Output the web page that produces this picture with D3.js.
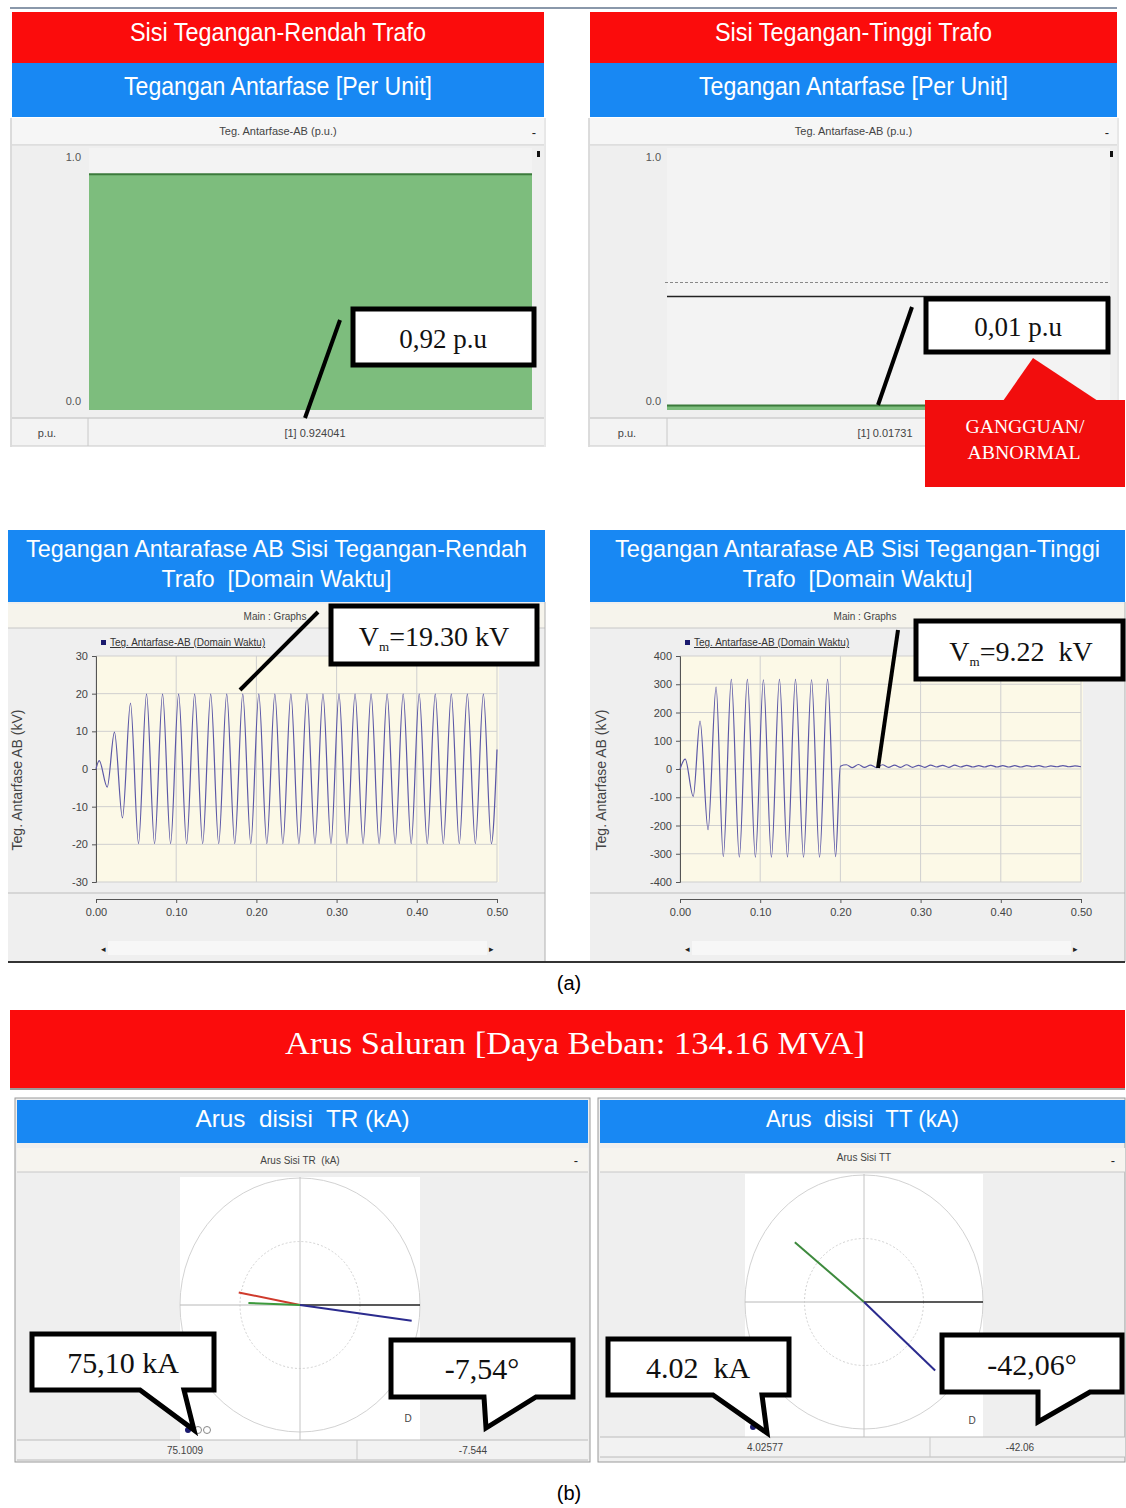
<!DOCTYPE html>
<html>
<head>
<meta charset="utf-8">
<title>Tegangan dan Arus Trafo</title>
<script src="https://cdn.jsdelivr.net/npm/d3@7/dist/d3.min.js"></script>
<style>
  body { margin: 0; background: #fff; }
  text { font-family: "Liberation Sans", Arial, sans-serif; }
  .serif { font-family: "Liberation Serif", "Times New Roman", serif; }
  .pre { white-space: pre; }
</style>
</head>
<body>
<div id="chart-area"></div>
<script>
// ---- values ----
var sideTitles = ["Sisi Tegangan-Rendah Trafo", "Sisi Tegangan-Tinggi Trafo"];
var puValues   = [0.924041, 0.01731];
var puReadout  = ["[1] 0.924041", "[1] 0.01731"];
var puTicks    = [0.0, 1.0];
var puCallouts = ["0,92 p.u", "0,01 p.u"];
var htLimitDashed = 0.5;
var htLimitSolid  = 0.445;

var waveTitles = [["Tegangan Antarafase AB Sisi Tegangan-Rendah", "Trafo  [Domain Waktu]"],
                  ["Tegangan Antarafase AB Sisi Tegangan-Tinggi", "Trafo  [Domain Waktu]"]];
var timeTicks = [0, 0.1, 0.2, 0.3, 0.4, 0.5];
var trTicks = [-30, -20, -10, 0, 10, 20, 30];
var ttTicks = [-400, -300, -200, -100, 0, 100, 200, 300, 400];
var vmLabels = ["=19.30 kV", "=9.22  kV"];

// half-cycle extremes of the LT-side waveform (s, kV)
var trTimes = [0, 0.004, 0.014, 0.023, 0.033, 0.043,
  0.053, 0.063, 0.073, 0.083, 0.093, 0.103, 0.113, 0.123, 0.133, 0.143,
  0.153, 0.163, 0.173, 0.183, 0.193, 0.203, 0.213, 0.223, 0.233, 0.243,
  0.253, 0.263, 0.273, 0.283, 0.293, 0.303, 0.313, 0.323, 0.333, 0.343,
  0.353, 0.363, 0.373, 0.383, 0.393, 0.403, 0.413, 0.423, 0.433, 0.443,
  0.453, 0.463, 0.473, 0.483, 0.493, 0.5];
var trValues = [0, 2.2, -4.8, 9.8, -13.0, 17.5,
  -19.8, 19.9, -19.8, 19.9, -19.8, 19.9, -19.8, 19.9, -19.8, 19.9,
  -19.8, 19.9, -19.8, 19.9, -19.8, 19.9, -19.8, 19.9, -19.8, 19.9,
  -19.8, 19.9, -19.8, 19.9, -19.8, 19.9, -19.8, 19.9, -19.8, 19.9,
  -19.8, 19.9, -19.8, 19.9, -19.8, 19.9, -19.8, 19.9, -19.8, 19.9,
  -19.8, 19.9, -19.8, 19.9, -19.8, 5.2];

// HT-side waveform: extremes before the fault, ripple after 0.2 s (s, kV)
var ttTimes = [0, 0.0065, 0.0165, 0.025, 0.035, 0.045,
  0.054, 0.064, 0.074, 0.084, 0.094, 0.104, 0.114, 0.124, 0.134, 0.144,
  0.154, 0.164, 0.174, 0.184, 0.194, 0.2,
  0.2075, 0.215, 0.2225, 0.23, 0.2375, 0.245, 0.2525, 0.26, 0.2675, 0.275,
  0.2825, 0.29, 0.2975, 0.305, 0.3125, 0.32, 0.3275, 0.335, 0.3425, 0.35,
  0.3575, 0.365, 0.3725, 0.38, 0.3875, 0.395, 0.4025, 0.41, 0.4175, 0.425,
  0.4325, 0.44, 0.4475, 0.455, 0.4625, 0.47, 0.4775, 0.485, 0.4925, 0.5];
var ttValues = [0, 35, -97, 170, -215, 290,
  -310, 317, -312, 317, -312, 316, -312, 317, -311, 317,
  -312, 316, -312, 317, -310, 10,
  15, 5, 16, 6, 14, 5, 15, 6, 14, 6,
  15, 6, 13, 6, 14, 7, 13, 6, 14, 7,
  13, 7, 12, 7, 13, 7, 12, 7, 12, 7,
  12, 8, 12, 7, 11, 8, 12, 8, 11, 8];

var loadTitle = "Arus Saluran [Daya Beban: 134.16 MVA]";
var phasorTitles = ["Arus  disisi  TR (kA)", "Arus  disisi  TT (kA)"];
var phasorSubTitles = ["Arus Sisi TR  (kA)", "Arus Sisi TT"];
var trPhasorMag = [41.6, 34.4, 75.1009];
var trPhasorAng = [169, 178, -7.544];
var ttPhasorMag = [3.74, 4.02577];
var ttPhasorAng = [141, -42.06];
var phasorMax = [80, 5];
var phasorReadMag = ["75.1009", "4.02577"];
var phasorReadAng = ["-7.544", "-42.06"];
var phasorCallMag = ["75,10 kA", "4.02  kA"];
var phasorCallAng = ["-7,54°", "-42,06°"];

// ---- drawing ----
var W = 1126, H = 1508;
var RED = "#fb0c0c", BLUE = "#1888f3", PANEL = "#efefef";

var svg = d3.select("#chart-area")
    .append("svg")
        .attr("width", W)
        .attr("height", H);

svg.append("rect").attr("width", W).attr("height", H).attr("fill", "#fff");

function hline(g, x0, x1, y, color, w) {
    g.append("line").attr("x1", x0).attr("x2", x1).attr("y1", y).attr("y2", y)
        .attr("stroke", color).attr("stroke-width", w || 1);
}
function vline(g, x, y0, y1, color, w) {
    g.append("line").attr("x1", x).attr("x2", x).attr("y1", y0).attr("y2", y1)
        .attr("stroke", color).attr("stroke-width", w || 1);
}
function label(g, x, y, txt, size, opts) {
    opts = opts || {};
    var t = g.append("text")
        .attr("x", x).attr("y", y)
        .attr("font-size", size)
        .attr("text-anchor", opts.anchor || "middle")
        .attr("fill", opts.fill || "#333")
        .attr("class", (opts.cls || "") + " pre")
        .text(txt);
    if (opts.len) t.attr("textLength", opts.len).attr("lengthAdjust", "spacingAndGlyphs");
    return t;
}
function box(g, x0, y0, x1, y1) {
    g.append("rect").attr("x", x0).attr("y", y0)
        .attr("width", x1 - x0).attr("height", y1 - y0)
        .attr("fill", "#fff").attr("stroke", "#000").attr("stroke-width", 5);
}

hline(svg, 10, 1117, 8, "#8a98aa", 2);

// ================= (a) top: per-unit RMS =================
var topLayout = [
    { x0: 12, x1: 544, plotX0: 89, plotX1: 532, tickX: 81, unitX: 47, divX: 88, readX: 315, l1: 296, l2: 308 },
    { x0: 590, x1: 1117, plotX0: 667, plotX1: 1110, tickX: 661, unitX: 627, divX: 667, readX: 885, l1: 277, l2: 309 }
];

topLayout.forEach(function(L, i) {
    var g = svg.append("g");
    var w = L.x1 - L.x0, cx = (L.x0 + L.x1) / 2;

    g.append("rect").attr("x", L.x0).attr("y", 12).attr("width", w).attr("height", 51).attr("fill", RED);
    label(g, cx, 41, sideTitles[i], 25, { fill: "#fff", len: L.l1 });
    g.append("rect").attr("x", L.x0).attr("y", 63).attr("width", w).attr("height", 54).attr("fill", BLUE);
    label(g, cx, 95, "Tegangan Antarfase [Per Unit]", 25, { fill: "#fff", len: L.l2 });

    g.append("rect").attr("x", L.x0).attr("y", 118).attr("width", w).attr("height", 27).attr("fill", "#f6f6f6");
    hline(g, L.x0, L.x1, 145, "#c6c6c6");
    label(g, cx, 135, "Teg. Antarfase-AB (p.u.)", 11, { fill: "#444" });
    label(g, L.x1 - 10, 137, "-", 13, { fill: "#222" });

    g.append("rect").attr("x", L.x0).attr("y", 146).attr("width", w).attr("height", 272).attr("fill", PANEL);
    g.append("rect").attr("x", L.plotX0).attr("y", 148).attr("width", L.plotX1 - L.plotX0).attr("height", 262).attr("fill", "#f3f3f3");

    var y = d3.scaleLinear().domain([0, 1]).range([410, 155]);

    g.selectAll(".pu-tick")
        .data(puTicks)
        .enter()
        .append("text")
            .attr("x", L.tickX)
            .attr("y", function(d) { return d === 1 ? y(d) + 6 : y(d) - 5; })
            .attr("text-anchor", "end")
            .attr("font-size", 11)
            .attr("fill", "#555")
            .text(function(d) { return d.toFixed(1); });

    if (i === 1) {
        g.append("line").attr("x1", 665).attr("x2", 1110)
            .attr("y1", y(htLimitDashed)).attr("y2", y(htLimitDashed))
            .attr("stroke", "#888").attr("stroke-dasharray", "3,2");
        hline(g, 667, 1110, y(htLimitSolid), "#222", 1.5);
    }

    g.append("rect")
        .attr("x", L.plotX0)
        .attr("y", y(puValues[i]))
        .attr("width", L.plotX1 - L.plotX0)
        .attr("height", y(0) - y(puValues[i]))
        .attr("fill", "#7dbd7d");
    hline(g, L.plotX0, L.plotX1, y(puValues[i]), "#3b7a3b", 2);

    g.append("rect").attr("x", L.x1 - 7).attr("y", 151).attr("width", 3).attr("height", 6).attr("fill", "#111");

    g.append("rect").attr("x", L.x0).attr("y", 418).attr("width", w).attr("height", 28).attr("fill", "#f3f3f3");
    hline(g, L.x0, L.x1, 418, "#bcbcbc");
    hline(g, L.x0, L.x1, 446, "#c8c8c8");
    vline(g, L.divX, 418, 446, "#c8c8c8");
    vline(g, L.x0 - 1, 118, 447, "#b8b8b8");
    vline(g, L.x1 + 1, 118, 447, "#d0d0d0");
    label(g, L.unitX, 437, "p.u.", 11, { fill: "#444" });
    label(g, L.readX, 437, puReadout[i], 11, { fill: "#444" });
});

// top callouts
(function() {
    var g = svg.append("g");
    g.append("line").attr("x1", 340).attr("y1", 320).attr("x2", 305).attr("y2", 418)
        .attr("stroke", "#000").attr("stroke-width", 4);
    box(g, 353, 309, 534, 365);
    label(g, 443, 348, puCallouts[0], 27, { fill: "#111", cls: "serif" });

    g.append("line").attr("x1", 912).attr("y1", 307).attr("x2", 878).attr("y2", 405)
        .attr("stroke", "#000").attr("stroke-width", 4);
    box(g, 926, 299, 1108, 352);
    label(g, 1018, 336, puCallouts[1], 27, { fill: "#111", cls: "serif" });

    g.append("path")
        .attr("d", "M1003,401 L1033,358 L1098,401 Z")
        .attr("fill", "#f20d0d");
    g.append("rect").attr("x", 925).attr("y", 400).attr("width", 200).attr("height", 87).attr("fill", "#f20d0d");
    label(g, 1025, 433, "GANGGUAN/", 18, { fill: "#fff", cls: "serif", len: 119 });
    label(g, 1024, 459, "ABNORMAL", 18, { fill: "#fff", cls: "serif", len: 113 });
})();

// ================= (a) middle: time-domain waveforms =================
var waveLayout = [
    { x0: 8, x1: 545, px0: 96, px1: 497, times: trTimes, values: trValues, ticks: trTicks, dom: [-30, 30],
      mainX: 275, axisTitleX: 22, l1: 501, l2: 230, vm: vmLabels[0] },
    { x0: 590, x1: 1125, px0: 680, px1: 1081, times: ttTimes, values: ttValues, ticks: ttTicks, dom: [-400, 400],
      mainX: 865, axisTitleX: 606, l1: 485, l2: 230, vm: vmLabels[1] }
];

waveLayout.forEach(function(L, i) {
    var g = svg.append("g");
    var w = L.x1 - L.x0, cx = (L.x0 + L.x1) / 2;

    g.append("rect").attr("x", L.x0).attr("y", 530).attr("width", w).attr("height", 72).attr("fill", BLUE);
    label(g, cx, 557, waveTitles[i][0], 24, { fill: "#fff", len: L.l1 });
    label(g, cx, 587, waveTitles[i][1], 24, { fill: "#fff", len: L.l2 });

    g.append("rect").attr("x", L.x0).attr("y", 602).attr("width", w).attr("height", 360).attr("fill", PANEL);
    g.append("rect").attr("x", L.x0).attr("y", 604).attr("width", w).attr("height", 24).attr("fill", "#f6f4ec");
    hline(g, L.x0, L.x1, 628, "#c8c8c8");
    label(g, L.mainX, 620, "Main : Graphs", 10, { fill: "#444" });

    var x = d3.scaleLinear().domain([0, 0.5]).range([L.px0, L.px1]);
    var y = d3.scaleLinear().domain(L.dom).range([882, 656]);

    g.append("rect").attr("x", L.px0).attr("y", 656).attr("width", L.px1 - L.px0 + 2).attr("height", 226)
        .attr("fill", "#fcf9e7");

    g.selectAll(".gx").data(timeTicks).enter().append("line")
        .attr("x1", function(d) { return x(d); }).attr("x2", function(d) { return x(d); })
        .attr("y1", 656).attr("y2", 882)
        .attr("stroke", "#cfcfcf");
    g.selectAll(".gy").data(L.ticks).enter().append("line")
        .attr("x1", L.px0).attr("x2", L.px1)
        .attr("y1", function(d) { return y(d); }).attr("y2", function(d) { return y(d); })
        .attr("stroke", "#cfcfcf");

    var yAxis = d3.axisLeft(y)
        .tickValues(L.ticks)
        .tickSize(4)
        .tickPadding(4)
        .tickFormat(function(d) { return String(d); });
    var ya = g.append("g")
        .attr("transform", "translate(" + L.px0 + ",0)")
        .call(yAxis);
    ya.select(".domain").attr("stroke", "#555");
    ya.selectAll("line").attr("stroke", "#555");
    ya.selectAll("text").attr("font-size", 11).attr("fill", "#444")
        .attr("font-family", "Liberation Sans, Arial, sans-serif");

    hline(g, L.x0, L.x1, 893, "#bdbdbd");
    var xAxis = d3.axisBottom(x)
        .tickValues(timeTicks)
        .tickSize(4)
        .tickPadding(5)
        .tickFormat(d3.format(".2f"));
    var xa = g.append("g")
        .attr("transform", "translate(0,899)")
        .call(xAxis);
    xa.select(".domain").attr("stroke", "#555");
    xa.selectAll("line").attr("stroke", "#555");
    xa.selectAll("text").attr("font-size", 11).attr("fill", "#444")
        .attr("font-family", "Liberation Sans, Arial, sans-serif");

    g.append("text")
        .attr("transform", "translate(" + L.axisTitleX + ",780) rotate(-90)")
        .attr("text-anchor", "middle")
        .attr("font-size", 14)
        .attr("fill", "#444")
        .text("Teg. Antarfase AB (kV)");

    g.append("rect").attr("x", L.px0 + 5).attr("y", 640).attr("width", 5).attr("height", 5).attr("fill", "#1a1a6e");
    label(g, L.px0 + 14, 646, "Teg. Antarfase-AB (Domain Waktu)", 10, { anchor: "start", fill: "#333" })
        .attr("text-decoration", "underline");

    var pts = L.times.map(function(t, k) { return [t, L.values[k]]; });
    var line = d3.line()
        .x(function(d) { return x(d[0]); })
        .y(function(d) { return y(d[1]); })
        .curve(d3.curveMonotoneX);
    g.append("path")
        .datum(pts)
        .attr("d", line)
        .attr("fill", "none")
        .attr("stroke", "#5b57a6")
        .attr("stroke-width", 1.2);

    g.append("rect").attr("x", L.px0 + 12).attr("y", 941).attr("width", L.px1 - L.px0 - 22).attr("height", 14)
        .attr("fill", "#f7f7f7");
    label(g, L.px0 + 7, 952, "◂", 9, { fill: "#222" });
    label(g, L.px1 - 6, 952, "▸", 9, { fill: "#222" });
    vline(g, L.x1, 602, 962, "#b0b0b0");
});
hline(svg, 8, 1125, 962, "#333", 2);

// middle callouts
(function() {
    var g = svg.append("g");
    g.append("line").attr("x1", 240).attr("y1", 690).attr("x2", 318).attr("y2", 612)
        .attr("stroke", "#000").attr("stroke-width", 4);
    box(g, 331, 606, 537, 664);
    var t = g.append("text").attr("class", "serif pre").attr("x", 434).attr("y", 646)
        .attr("text-anchor", "middle").attr("font-size", 28).attr("fill", "#111");
    t.append("tspan").text("V");
    t.append("tspan").attr("font-size", 13).attr("dy", 5).text("m");
    t.append("tspan").attr("dy", -5).text(waveLayout[0].vm);

    g.append("line").attr("x1", 878).attr("y1", 768).attr("x2", 898).attr("y2", 630)
        .attr("stroke", "#000").attr("stroke-width", 4);
    box(g, 916, 621, 1123, 679);
    var t2 = g.append("text").attr("class", "serif pre").attr("x", 1021).attr("y", 661)
        .attr("text-anchor", "middle").attr("font-size", 28).attr("fill", "#111");
    t2.append("tspan").text("V");
    t2.append("tspan").attr("font-size", 13).attr("dy", 5).text("m");
    t2.append("tspan").attr("dy", -5).text(waveLayout[1].vm);
})();

label(svg, 569, 990, "(a)", 20, { fill: "#000" });

// ================= (b) line currents, phasors =================
svg.append("rect").attr("x", 10).attr("y", 1010).attr("width", 1115).attr("height", 78).attr("fill", RED);
hline(svg, 10, 1125, 1089, "#9a9a9a", 2);
label(svg, 575, 1054, loadTitle, 32, { fill: "#fff", cls: "serif", len: 580 });

var phasorLayout = [
    { x0: 15, x1: 590, bx0: 17, bx1: 588, cx: 300, cy: 1305, rx: 120, ry: 127, rowY: 1440, divX: 357,
      magX: 185, angX: 473, subY: 1164, mags: trPhasorMag, angs: trPhasorAng,
      colors: ["#cf3a2c", "#3d9a3d", "#2b2b8e"], tlen: 214, dX: 408, dY: 1422 },
    { x0: 598, x1: 1125, bx0: 600, bx1: 1125, cx: 864, cy: 1302, rx: 119, ry: 127, rowY: 1437, divX: 930,
      magX: 765, angX: 1020, subY: 1161, mags: ttPhasorMag, angs: ttPhasorAng,
      colors: ["#3d8a3d", "#2b2b8e"], tlen: 193, dX: 972, dY: 1424 }
];

phasorLayout.forEach(function(L, i) {
    var g = svg.append("g");
    var w = L.bx1 - L.bx0, cx = (L.bx0 + L.bx1) / 2;

    g.append("rect").attr("x", L.x0).attr("y", 1098).attr("width", L.x1 - L.x0).attr("height", 364)
        .attr("fill", PANEL).attr("stroke", "#9a9a9a");
    g.append("rect").attr("x", L.bx0).attr("y", 1100).attr("width", w).attr("height", 43).attr("fill", BLUE);
    label(g, cx, 1127, phasorTitles[i], 24, { fill: "#fff", len: L.tlen });
    g.append("rect").attr("x", L.bx0).attr("y", 1148).attr("width", w).attr("height", 24).attr("fill", "#f6f4ef");
    hline(g, L.bx0, L.bx1, 1172, "#c8c8c8");
    label(g, L.cx, L.subY, phasorSubTitles[i], 10, { fill: "#444" });
    label(g, L.bx1 - 12, 1165, "-", 13, { fill: "#222" });

    var x = d3.scaleLinear().domain([-phasorMax[i], phasorMax[i]]).range([L.cx - L.rx, L.cx + L.rx]);
    var y = d3.scaleLinear().domain([-phasorMax[i], phasorMax[i]]).range([L.cy + L.ry, L.cy - L.ry]);

    g.append("rect").attr("x", L.cx - L.rx).attr("y", L.cy - L.ry - 1)
        .attr("width", 2 * L.rx).attr("height", L.rowY - (L.cy - L.ry - 1)).attr("fill", "#fff");
    g.append("ellipse").attr("cx", x(0)).attr("cy", y(0))
        .attr("rx", x(phasorMax[i]) - x(0)).attr("ry", y(0) - y(phasorMax[i]))
        .attr("fill", "none").attr("stroke", "#d2d2d2");
    g.append("ellipse").attr("cx", x(0)).attr("cy", y(0))
        .attr("rx", x(phasorMax[i] / 2) - x(0)).attr("ry", y(0) - y(phasorMax[i] / 2))
        .attr("fill", "none").attr("stroke", "#d2d2d2").attr("stroke-dasharray", "2,2");
    vline(g, x(0), L.cy - L.ry - 1, L.rowY, "#c4c4c4");
    hline(g, x(-phasorMax[i]), x(0), y(0), "#b8b8b8");
    hline(g, x(0), x(phasorMax[i]), y(0), "#222", 1.3);

    g.selectAll(".ph")
        .data(L.mags)
        .enter()
        .append("line")
            .attr("x1", x(0))
            .attr("y1", y(0))
            .attr("x2", function(d, k) { return x(d * Math.cos(L.angs[k] * Math.PI / 180)); })
            .attr("y2", function(d, k) { return y(d * Math.sin(L.angs[k] * Math.PI / 180)); })
            .attr("stroke", function(d, k) { return L.colors[k]; })
            .attr("stroke-width", 2);

    label(g, L.dX, L.dY, "D", 10, { fill: "#444" });
    g.append("circle").attr("cx", L.cx - L.rx + 8).attr("cy", L.rowY - 10).attr("r", 3).attr("fill", "#1a1a6e");
    if (i === 0) {
        g.append("circle").attr("cx", L.cx - L.rx + 18).attr("cy", L.rowY - 10).attr("r", 3.5)
            .attr("fill", "#fff").attr("stroke", "#888");
        g.append("circle").attr("cx", L.cx - L.rx + 27).attr("cy", L.rowY - 10).attr("r", 3.5)
            .attr("fill", "#fff").attr("stroke", "#888");
    }

    g.append("rect").attr("x", L.bx0).attr("y", L.rowY).attr("width", w).attr("height", 20).attr("fill", "#f2f2f2");
    hline(g, L.bx0, L.bx1, L.rowY, "#bcbcbc");
    hline(g, L.bx0, L.bx1, L.rowY + 20, "#bcbcbc");
    vline(g, L.divX, L.rowY, L.rowY + 20, "#c8c8c8");
    label(g, L.magX, L.rowY + 14, phasorReadMag[i], 10, { fill: "#444" });
    label(g, L.angX, L.rowY + 14, phasorReadAng[i], 10, { fill: "#444" });
});

// speech-bubble callouts
function bubble(x0, y0, x1, y1, tl, tr, tipX, tipY, txt, tx, ty) {
    var g = svg.append("g");
    var d = "M" + x0 + "," + y0 + " H" + x1 + " V" + y1 + " H" + tr +
            " L" + tipX + "," + tipY + " L" + tl + "," + y1 + " H" + x0 + " Z";
    g.append("path").attr("d", d)
        .attr("fill", "#fff").attr("stroke", "#000").attr("stroke-width", 5)
        .attr("stroke-linejoin", "miter");
    label(g, tx, ty, txt, 30, { fill: "#111", cls: "serif" });
}
bubble(32, 1334, 214, 1390, 140, 184, 194, 1430, phasorCallMag[0], 123, 1373);
bubble(391, 1340, 573, 1397, 484, 536, 486, 1428, phasorCallAng[0], 482, 1379);
bubble(608, 1339, 789, 1395, 713, 762, 767, 1433, phasorCallMag[1], 698, 1378);
bubble(942, 1335, 1122, 1392, 1038, 1090, 1038, 1422, phasorCallAng[1], 1032, 1375);

label(svg, 569, 1500, "(b)", 20, { fill: "#000" });
</script>
</body>
</html>
